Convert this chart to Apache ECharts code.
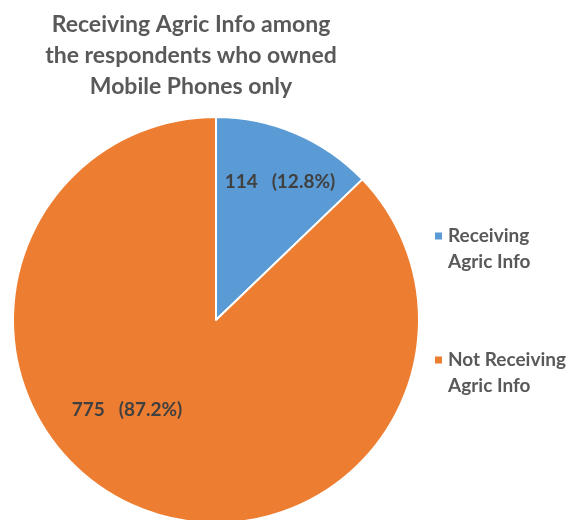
<!DOCTYPE html>
<html>
<head>
<meta charset="utf-8">
<script src="https://cdn.jsdelivr.net/npm/echarts@6/dist/echarts.min.js"></script>
<style>
  html, body { margin: 0; padding: 0; background: #fff; }
  #chart { width: 572px; height: 520px; }
</style>
</head>
<body>
<div id="chart"></div>
<script>
var categories = ['Receiving\nAgric Info', 'Not Receiving\nAgric Info'];
var counts = [114, 775];
var colors = ['#5B9BD5', '#ED7D31'];
// label nudges, Excel placed these by hand
var labelShift = [[23, -42], [-48, -6]];

var myChart = echarts.init(document.getElementById('chart'));

var pieData = [];
for (var i = 0; i < categories.length; i++) {
    pieData.push({ name: categories[i], value: counts[i], itemStyle: { color: colors[i] } });
}

var option = {
    backgroundColor: '#fff',
    title: {
        text: 'Receiving Agric Info among\nthe respondents who owned\nMobile Phones only',
        left: 191,
        top: 9,
        padding: 0,
        textAlign: 'center',
        textStyle: {
            fontFamily: 'Lato',
            fontSize: 23,
            fontWeight: 'bold',
            color: '#595959',
            lineHeight: 31
        }
    },
    legend: {
        orient: 'vertical',
        left: 433,
        top: 197,
        padding: 0,
        itemGap: 46,
        itemWidth: 9,
        itemHeight: 9,
        icon: 'rect',
        selectedMode: false,
        data: categories,
        // blank first line so the square sits beside the first text line
        formatter: function (name) { return ' \n' + name; },
        textStyle: {
            fontFamily: 'Lato',
            fontSize: 19,
            fontWeight: 'bold',
            color: '#595959',
            lineHeight: 26
        }
    },
    series: [{
        type: 'pie',
        center: [216, 320],
        radius: 203,
        startAngle: 90,
        clockwise: true,
        percentPrecision: 1,
        animation: false,
        itemStyle: { borderColor: '#fff', borderWidth: 2 },
        label: {
            position: 'inside',
            formatter: '{c}   ({d}%)',
            fontFamily: 'Lato',
            fontSize: 19,
            fontWeight: 'bold',
            color: '#404040'
        },
        labelLayout: function (params) {
            var s = labelShift[params.dataIndex];
            return { dx: s[0], dy: s[1] };
        },
        emphasis: { disabled: true },
        data: pieData
    }]
};
myChart.setOption(option);
</script>
</body>
</html>
